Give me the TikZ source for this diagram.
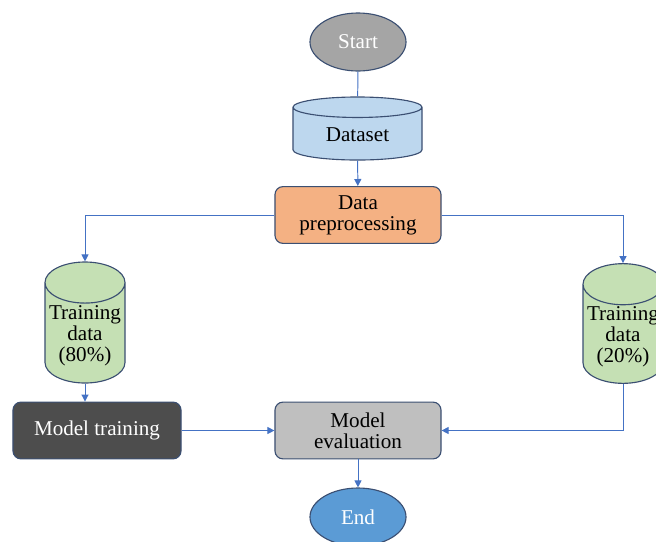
\documentclass[tikz,border=0pt]{standalone}
\usepackage{fontspec}
\setmainfont{Liberation Serif}
\usetikzlibrary{shapes.geometric,arrows.meta}
\definecolor{edgeblue}{HTML}{4472C4}
\definecolor{outline}{HTML}{3B4F72}
\definecolor{startgray}{HTML}{A5A5A5}
\definecolor{dsblue}{HTML}{BDD7EE}
\definecolor{prepor}{HTML}{F4B183}
\definecolor{trgreen}{HTML}{C5E0B4}
\definecolor{darkbox}{HTML}{4D4D4D}
\definecolor{evalgray}{HTML}{BFBFBF}
\definecolor{endblue}{HTML}{5B9BD5}
\begin{document}
\begin{tikzpicture}[x=0.025cm, y=-0.025cm,
	every node/.style={font=\fontsize{15}{14.8}\selectfont, align=center},
	terminal/.style={ellipse, draw=outline, line width=0.8pt, minimum width=2.4cm, minimum height=1.45cm, text=white, inner sep=0pt},
	process/.style={rectangle, rounded corners=0.2cm, draw=outline, line width=0.8pt, minimum width=4.15cm, minimum height=1.42cm, inner sep=2pt},
	store/.style={cylinder, shape border rotate=90, draw=outline, line width=0.8pt, inner sep=1pt, anchor=shape center},
	link/.style={draw=edgeblue, line width=0.7pt},
	>={Triangle[length=5pt,width=5pt]}]
		\useasboundingbox (0,0) rectangle (656,541);
		
		%terminals
		\node (start) at (358, 42) [terminal, fill=startgray]{Start};
		\node (end) at (358, 517) [terminal, fill=endblue]{End};
		
		%data stores
		\node (dataset) at (357.5, 128.5) [store, fill=dsblue, minimum width=3.225cm, minimum height=1.575cm, aspect=0.31]{Dataset};
		\node (train80) at (85, 322.5) [store, fill=trgreen, minimum width=2cm, minimum height=3.025cm, aspect=0.55]{Training\\data\\(80\%)};
		\node (train20) at (623, 323.5) [store, fill=trgreen, minimum width=2cm, minimum height=2.925cm, aspect=0.55]{Training\\data\\(20\%)};
		
		%processes
		\node (prep) at (358, 215) [process, fill=prepor]{Data\\preprocessing};
		\node (mtrain) at (97, 430.5) [process, fill=darkbox, text=white, minimum width=4.2cm]{Model training};
		\node (meval) at (358, 430.5) [process, fill=evalgray]{Model\\evaluation};
		
		%connectors
		\draw[link] (start) -- (dataset);
		\draw[link, ->] (dataset) -- (prep);
		\draw[link, ->] (prep.west) -| (train80);
		\draw[link, ->] (prep.east) -| (train20);
		\draw[link, ->] (train80) -- (train80 |- mtrain.north);
		\draw[link, ->] (mtrain) -- (meval);
		\draw[link, ->] (train20) |- (meval.east);
		\draw[link, ->] (meval) -- (end);
\end{tikzpicture}
\end{document}
